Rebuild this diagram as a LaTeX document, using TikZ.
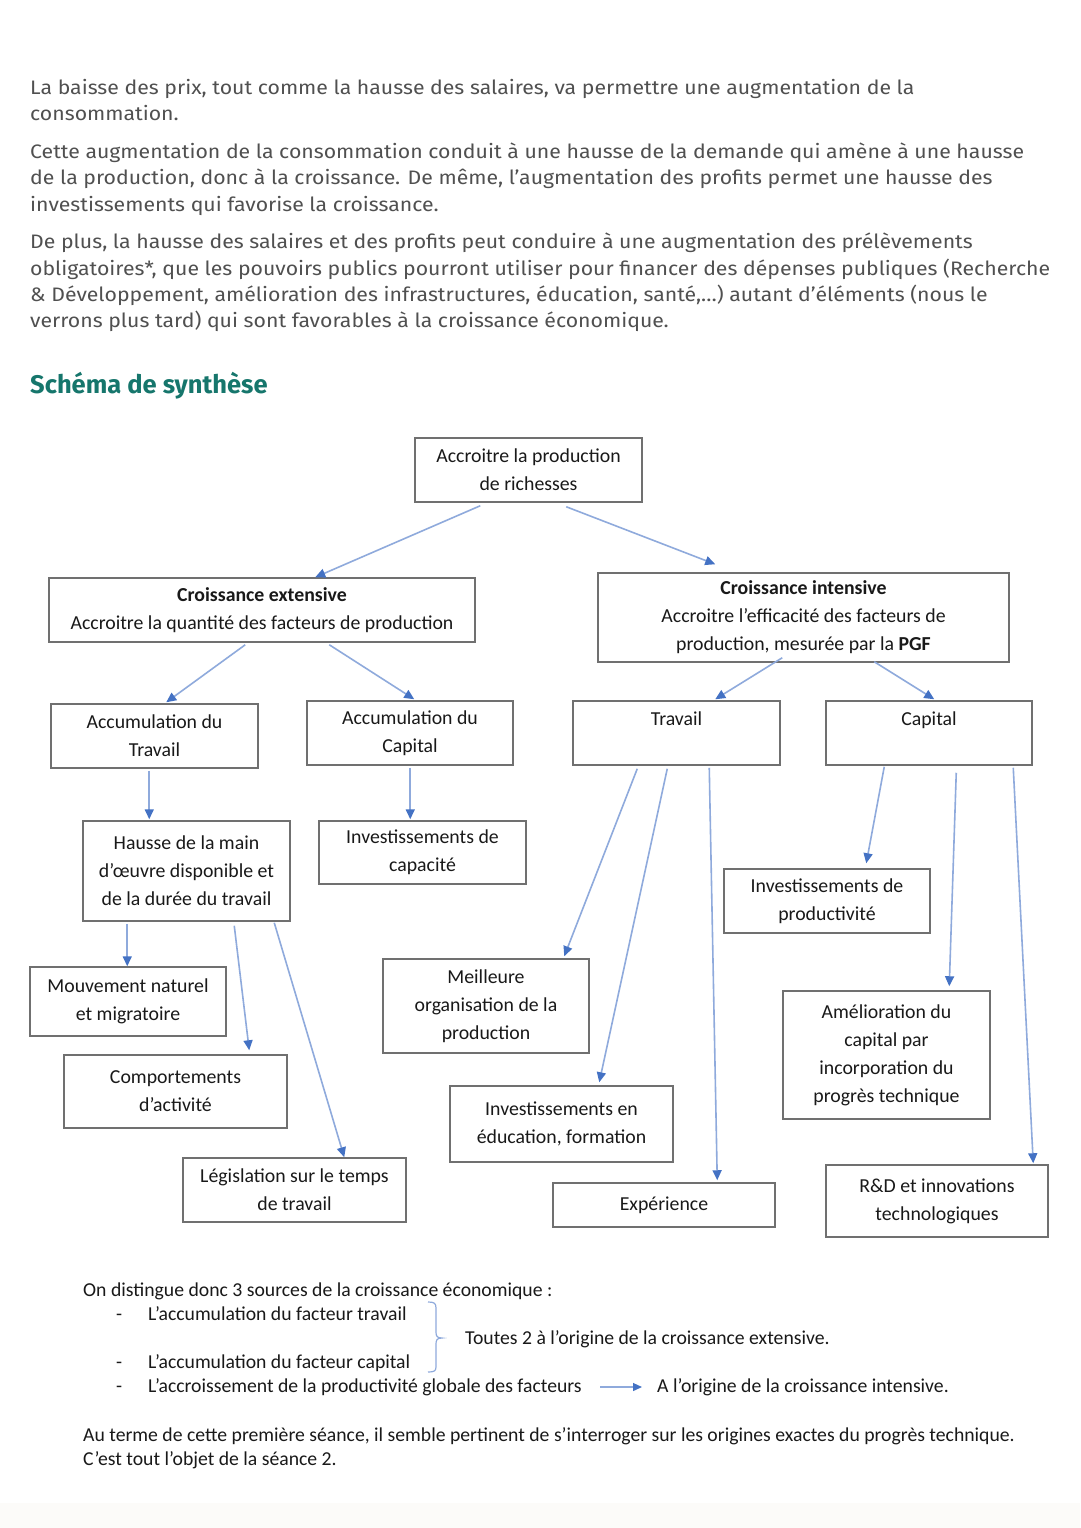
\documentclass[tikz,border=0pt]{standalone}
\usepackage{fontspec}
\usepackage{graphicx}
\setmainfont{Fira Sans}
\newfontfamily\boxfont{Carlito}
\usetikzlibrary{arrows.meta}
\definecolor{paragray}{RGB}{80,80,80}
\definecolor{headteal}{RGB}{22,118,108}
\definecolor{boxgray}{RGB}{112,112,112}
\definecolor{boxtext}{RGB}{25,25,25}
\definecolor{linkblue}{RGB}{143,170,220}
\definecolor{tipblue}{RGB}{68,114,196}
\definecolor{bandcol}{RGB}{252,251,249}
\newcommand{\pl}[1]{\scalebox{1.09}[1]{#1}}
\begin{document}
\begin{tikzpicture}[x=1pt,y=-1pt,
  para/.style={anchor=base west, inner sep=0pt, font=\fontsize{19.5}{22}\selectfont, text=paragray},
  head/.style={anchor=base west, inner sep=0pt, font=\bfseries\fontsize{25.5}{28}\selectfont, text=headteal},
  box/.style={draw=boxgray, line width=1.5pt, align=center, inner sep=0pt, font=\boxfont\fontsize{19.8}{28}\selectfont, text=boxtext},
  conn/.style={draw=linkblue, line width=1.6pt, -{Triangle[length=10pt,width=9pt,color=tipblue]}},
  note/.style={anchor=base west, inner sep=0pt, font=\boxfont\fontsize{19.7}{22}\selectfont, text=boxtext}]
\useasboundingbox (0,0) rectangle (1080,1528);
\fill[white] (0,0) rectangle (1080,1528);
\fill[bandcol] (0,1503) rectangle (1080,1528);

% paragraphs
\node[para] (p1a) at (30,94) {\pl{La baisse des prix, tout comme la hausse des salaires, va permettre une augmentation de la}};
\node[para] (p1b) at (30,120) {\pl{consommation.}};
\node[para] (p2a) at (30,158) {\pl{Cette augmentation de la consommation conduit à une hausse de la demande qui amène à une hausse}};
\node[para] (p2b) at (30,184) {\pl{de la production, donc à la croissance. De même, l’augmentation des profits permet une hausse des}};
\node[para] (p2c) at (30,211) {\pl{investissements qui favorise la croissance.}};
\node[para] (p3a) at (30,248) {\pl{De plus, la hausse des salaires et des profits peut conduire à une augmentation des prélèvements}};
\node[para] (p3b) at (30,275) {\pl{obligatoires*, que les pouvoirs publics pourront utiliser pour financer des dépenses publiques (Recherche}};
\node[para] (p3c) at (30,301) {\pl{\& Développement, amélioration des infrastructures, éducation, santé,…) autant d’éléments (nous le}};
\node[para] (p3d) at (30,327) {\pl{verrons plus tard) qui sont favorables à la croissance économique.}};

\node[head] (title) at (30,393) {Schéma de synthèse};

% boxes
\node[box, minimum width=227pt, minimum height=64pt] (top) at (528.5,470) {Accroitre la production\\de richesses};
\node[box, minimum width=426pt, minimum height=64pt] (ext) at (262,610) {\textbf{Croissance extensive}\\Accroitre la quantité des facteurs de production};
\node[box, minimum width=411pt, minimum height=89pt] (int) at (803.5,617.5) {\textbf{Croissance intensive}\\Accroitre l’efficacité des facteurs de\\production, mesurée par la \textbf{PGF}};
\node[box, minimum width=207pt, minimum height=64pt] (accT) at (154.5,736) {Accumulation du\\Travail};
\node[box, minimum width=206pt, minimum height=64pt] (accK) at (410,733) {Accumulation du\\Capital};
\node[box, minimum width=207pt, minimum height=64pt] (trav) at (676.5,733) {Travail\\\mbox{}};
\node[box, minimum width=206pt, minimum height=64pt] (cap) at (929,733) {Capital\\\mbox{}};
\node[box, minimum width=207pt, minimum height=100pt] (hausse) at (186.5,871) {Hausse de la main\\d’œuvre disponible et\\de la durée du travail};
\node[box, minimum width=207pt, minimum height=63pt] (invcap) at (422.5,852.5) {Investissements de\\capacité};
\node[box, minimum width=206pt, minimum height=64pt] (invprod) at (827,901) {Investissements de\\productivité};
\node[box, minimum width=196pt, minimum height=69pt] (mouv) at (128,1001.5) {Mouvement naturel\\et migratoire};
\node[box, minimum width=206pt, minimum height=94pt] (meill) at (486,1006) {Meilleure\\organisation de la\\production};
\node[box, minimum width=207pt, minimum height=128pt] (amel) at (886.5,1055) {Amélioration du\\capital par\\incorporation du\\progrès technique};
\node[box, minimum width=223pt, minimum height=73pt] (comp) at (175.5,1091.5) {Comportements\\d’activité};
\node[box, minimum width=223pt, minimum height=76pt] (inved) at (561.5,1124) {Investissements en\\éducation, formation};
\node[box, minimum width=223pt, minimum height=64pt] (legis) at (294.5,1190) {Législation sur le temps\\de travail};
\node[box, minimum width=222pt, minimum height=44pt] (exp) at (664,1205) {Expérience};
\node[box, minimum width=222pt, minimum height=72pt] (rd) at (937,1201) {R\&D et innovations\\technologiques};

% connectors
\draw[conn] ([shift={(66,3)}]top.south west) -- ([shift={(267,0)}]ext.north west);
\draw[conn] ([shift={(152,4)}]top.south west) -- ([shift={(118,-8)}]int.north west);
\draw[conn] ([shift={(197,2)}]ext.south west) -- ([shift={(116,-1)}]accT.north west);
\draw[conn] ([shift={(281,2)}]ext.south west) -- ([shift={(108,-1)}]accK.north west);
\draw[conn] ([shift={(185,-5)}]int.south west) -- ([shift={(143,-1)}]trav.north west);
\draw[conn] ([shift={(277,-1)}]int.south west) -- ([shift={(109,-1)}]cap.north west);
\draw[conn] ([shift={(99,2)}]accT.south west) -- ([shift={(67,-1)}]hausse.north west);
\draw[conn] ([shift={(104,2)}]accK.south west) -- ([shift={(92,-1)}]invcap.north west);
\draw[conn] ([shift={(45,2)}]hausse.south west) -- ([shift={(98,0)}]mouv.north west);
\draw[conn] ([shift={(152,4)}]hausse.south west) -- ([shift={(186,-4)}]comp.north west);
\draw[conn] ([shift={(192,1)}]hausse.south west) -- ([shift={(162,0)}]legis.north west);
\draw[conn] ([shift={(65,3)}]trav.south west) -- ([shift={(182,-2)}]meill.north west);
\draw[conn] ([shift={(95,3)}]trav.south west) -- ([shift={(150,-3)}]inved.north west);
\draw[conn] ([shift={(137,2)}]trav.south west) -- ([shift={(165,-2)}]exp.north west);
\draw[conn] ([shift={(59,1)}]cap.south west) -- ([shift={(143,-5)}]invprod.north west);
\draw[conn] ([shift={(131,7)}]cap.south west) -- ([shift={(167,-4)}]amel.north west);
\draw[conn] ([shift={(188,2)}]cap.south west) -- ([shift={(208,-1)}]rd.north west);

% bottom text
\node[note] (n0) at (83,1296) {On distingue donc 3 sources de la croissance économique :};
\node[note] (b1) at (116,1320) {-};
\node[note] (l1) at (148,1320) {L’accumulation du facteur travail};
\node[note] (b2) at (116,1368) {-};
\node[note] (l2) at (148,1368) {L’accumulation du facteur capital};
\node[note] (b3) at (116,1392) {-};
\node[note] (l3) at (148,1392) {L’accroissement de la productivité globale des facteurs};
\node[note] (t12) at (465,1344) {Toutes 2 à l’origine de la croissance extensive.};
\node[note] (t3) at (657,1392) {A l’origine de la croissance intensive.};
\node[note] (c1) at (83,1441) {Au terme de cette première séance, il semble pertinent de s’interroger sur les origines exactes du progrès technique.};
\node[note] (c2) at (83,1465) {C’est tout l’objet de la séance 2.};

% brace
\draw[linkblue, line width=1.2pt] (428,1302) .. controls (434,1302) and (436,1303) .. (436,1308) -- (436,1332) .. controls (436,1336) and (437,1338) .. (442,1338) .. controls (437,1338) and (436,1340) .. (436,1344) -- (436,1367) .. controls (436,1371) and (434,1372) .. (428,1372);
\draw[conn, line width=1.3pt, -{Triangle[length=9pt,width=8pt,color=tipblue]}] ([shift={(-57,-5)}]t3.base west) -- ([shift={(-15,-5)}]t3.base west);
\end{tikzpicture}
\end{document}
